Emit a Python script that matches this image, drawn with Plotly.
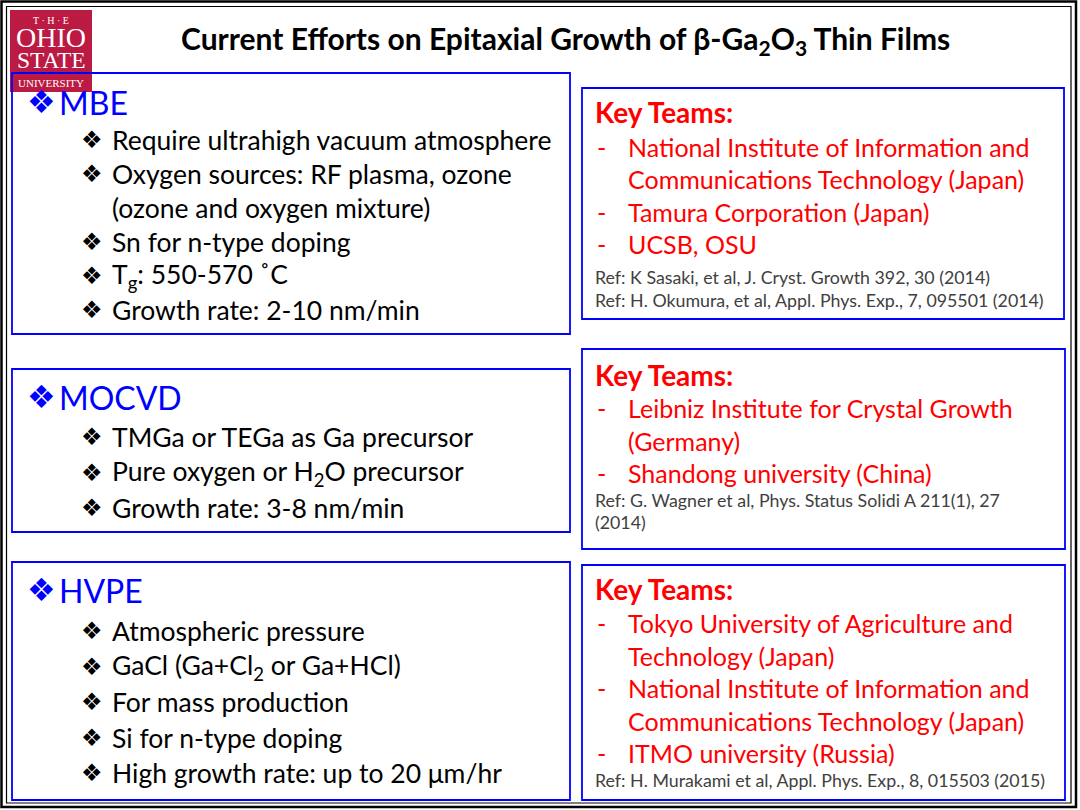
import plotly.graph_objects as go

# slide text
title = "Current Efforts on Epitaxial Growth of β-Ga<sub>2</sub>O<sub>3</sub> Thin Films"
logo_lines = ["T · H · E", "OHIO", "STATE", "UNIVERSITY"]

methods = ["MBE", "MOCVD", "HVPE"]
mbe_items = [["Require ultrahigh vacuum atmosphere"],
             ["Oxygen sources: RF plasma, ozone", "(ozone and oxygen mixture)"],
             ["Sn for n-type doping"],
             ["T<sub>g</sub>: 550-570 ˚C"],
             ["Growth rate: 2-10 nm/min"]]
mocvd_items = [["TMGa or TEGa as Ga precursor"],
               ["Pure oxygen or H<sub>2</sub>O precursor"],
               ["Growth rate: 3-8 nm/min"]]
hvpe_items = [["Atmospheric pressure"],
              ["GaCl (Ga+Cl<sub>2</sub> or Ga+HCl)"],
              ["For mass production"],
              ["Si for n-type doping"],
              ["High growth rate: up to 20 μm/hr"]]

teams_header = "Key Teams:"
mbe_teams = [["National Institute of Information and", "Communications Technology (Japan)"],
             ["Tamura Corporation (Japan)"],
             ["UCSB, OSU"]]
mocvd_teams = [["Leibniz Institute for Crystal Growth", "(Germany)"],
               ["Shandong university (China)"]]
hvpe_teams = [["Tokyo University of Agriculture and", "Technology (Japan)"],
              ["National Institute of Information and", "Communications Technology (Japan)"],
              ["ITMO university (Russia)"]]
mbe_refs = ["Ref: K Sasaki, et al, J. Cryst. Growth 392, 30 (2014)",
            "Ref: H. Okumura, et al, Appl. Phys. Exp., 7, 095501 (2014)"]
mocvd_refs = ["Ref: G. Wagner et al, Phys. Status Solidi A 211(1), 27", "(2014)"]
hvpe_refs = ["Ref: H. Murakami et al, Appl. Phys. Exp., 8, 015503 (2015)"]

FONT = "Lato"
BLUE = "#0000FF"
RED = "#FF0000"
GRAY = "#404040"

fig = go.Figure()
shapes = []
annotations = []


def text(x, y, s, size, color="black", bold=False, family=FONT, anchor="left"):
    if bold:
        s = "<b>" + s + "</b>"
    annotations.append(dict(x=x, y=y, xref="x", yref="y", text=s, showarrow=False,
                            xanchor=anchor, yanchor="middle",
                            font=dict(family=family, size=size, color=color)))


def box(x0, y0, x1, y1, color=BLUE, width=1.8):
    shapes.append(dict(type="rect", xref="x", yref="y", x0=x0, y0=y0, x1=x1, y1=y1,
                       line=dict(color=color, width=width), layer="above"))


# slide frame
shapes.append(dict(type="rect", xref="x", yref="y", x0=1.5, y0=1.5, x1=1076, y1=807,
                   line=dict(color="black", width=2.5)))
shapes.append(dict(type="rect", xref="x", yref="y", x0=6.5, y0=6.5, x1=1071, y1=803,
                   line=dict(color="black", width=1.2)))

# logo
shapes.append(dict(type="rect", xref="x", yref="y", x0=10, y0=10, x1=92, y1=92,
                   fillcolor="#BB1A43", line=dict(width=0), layer="below"))
logo_y = [20, 37.5, 60, 82.5]
logo_size = [10, 28, 23.5, 11]
for s, y, fs in zip(logo_lines, logo_y, logo_size):
    text(51, y, s, fs, color="white", family="Liberation Serif", anchor="center")

text(565, 40, title, 30, bold=True, anchor="center")

# left: methods
left_boxes = [(12, 73, 570, 334), (12, 369, 570, 532), (12, 562, 570, 800)]
left_layout = [(102, 140, 34), (397, 437, 35.5), (590, 631, 35.6)]
for name, items, bx, (hy, y0, dy) in zip(methods, [mbe_items, mocvd_items, hvpe_items],
                                         left_boxes, left_layout):
    box(*bx)
    text(25, hy, "❖", 32, color=BLUE, family="DejaVu Sans")
    text(57, hy, name, 32, color=BLUE)
    row = 0
    for item in items:
        text(79, y0 + row * dy, "❖", 24, family="DejaVu Sans")
        for line in item:
            text(110, y0 + row * dy, line, 26.5)
            row += 1

# right: key teams
right_boxes = [(582, 88, 1064, 319), (582, 349, 1065, 549), (582, 565, 1065, 800)]
right_layout = [(112, 147, 32.4, 277, 23), (375, 408, 32.5, 500, 22),
                (589, 623, 32.5, 780, 22)]
for teams, refs, bx, (hy, y0, dy, ry, rdy) in zip(
        [mbe_teams, mocvd_teams, hvpe_teams], [mbe_refs, mocvd_refs, hvpe_refs],
        right_boxes, right_layout):
    box(*bx)
    text(593, hy, teams_header, 28, color=RED, bold=True)
    row = 0
    for team in teams:
        text(595, y0 + row * dy, "-", 25, color=RED)
        for line in team:
            text(626, y0 + row * dy, line, 25, color=RED)
            row += 1
    for i, r in enumerate(refs):
        text(593, ry + i * rdy, r, 17.8, color=GRAY)

fig.update_layout(width=1080, height=810, margin=dict(l=0, r=0, t=0, b=0),
                  plot_bgcolor="white", paper_bgcolor="white",
                  shapes=shapes, annotations=annotations, showlegend=False)
fig.update_xaxes(range=[0, 1080], visible=False, fixedrange=True)
fig.update_yaxes(range=[810, 0], visible=False, fixedrange=True)

fig.write_html("out.html", config={"displayModeBar": False},
               post_script="document.body.style.margin = '0';")
